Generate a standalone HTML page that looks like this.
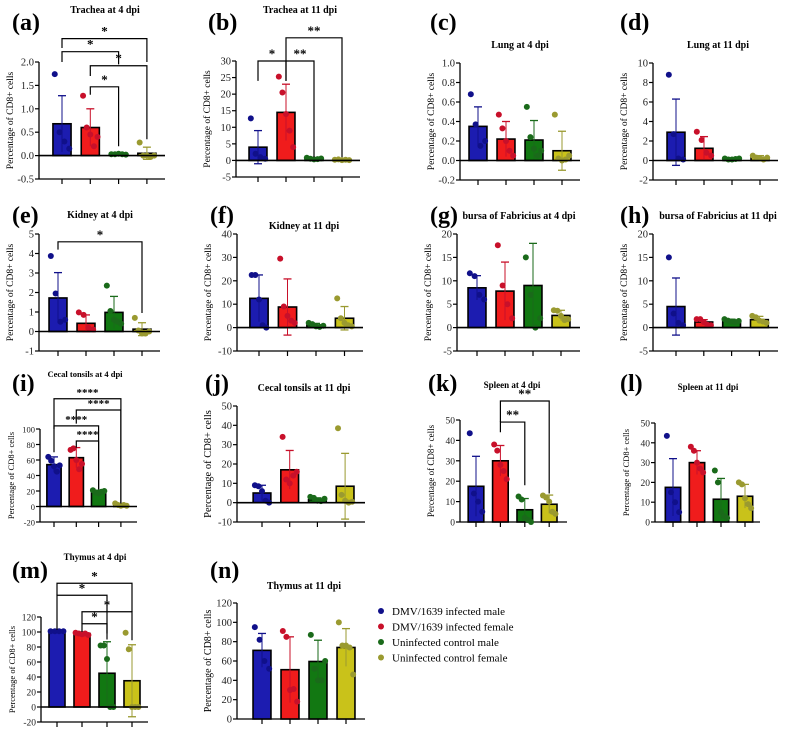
<!DOCTYPE html>
<html><head><meta charset="utf-8"><style>
html,body{margin:0;padding:0;background:#fff;}
svg{display:block;}
text{font-family:"Liberation Serif",serif;}
</style></head><body>
<svg id="fig" width="789" height="732" viewBox="0 0 789 732" xmlns="http://www.w3.org/2000/svg"></svg>
<script>
// ---- data ----
const groups = ["DMV/1639 infected male","DMV/1639 infected female","Uninfected control male","Uninfected control female"];
const aMeans=[0.68,0.6,0.03,0.05], aSD=[0.6,0.4,0.01,0.13];
const aPts=[[1.74,0.5,0.3,0.15],[1.28,0.6,0.45,0.2,0.4],[0.03,0.03,0.04,0.03,0.02],[0.28,0.0,0.0,-0.03,0.0]];
const bMeans=[4,14.5,0.5,0.2], bSD=[5,8.5,0.3,0.2];
const bPts=[[12.7,2,1,0.5],[25.3,20.5,14,9,4],[0.8,0.5,0.3,0.4,0.6],[0.2,0.3,0.1,0.2,0.1]];
const cMeans=[0.35,0.22,0.21,0.1], cSD=[0.2,0.18,0.2,0.2];
const cPts=[[0.68,0.37,0.15,0.2],[0.47,0.33,0.2,0.1,0.05],[0.55,0.24,0.12,0.05,0.1],[0.47,0.02,0.0,0.01,0.05]];
const dMeans=[2.9,1.25,0.15,0.3], dSD=[3.4,1.2,0.1,0.2];
const dPts=[[8.8,2.7,0.2,0.1],[2.95,2.1,0.8,0.5],[0.2,0.1,0.1,0.15,0.2],[0.5,0.3,0.2,0.1,0.3]];
const eMeans=[1.72,0.42,0.98,0.12], eSD=[1.3,0.43,0.82,0.33];
const ePts=[[3.87,1.95,0.5,0.6],[0.98,0.85,0.2,0.1],[2.35,1.05,0.6,0.5,0.4],[0.7,0.05,-0.1,-0.1,0.0]];
const fMeans=[12.5,8.8,1,4], fSD=[10,12,0.8,5];
const fPts=[[22.5,22.5,12,1,0],[29.5,9,5,3,2],[2,1.5,0.5,0.3,0.8],[12.5,4,2,1,0.5]];
const gMeans=[8.5,7.8,9,2.6], gSD=[2.6,6.2,9,1.1];
const gPts=[[11.6,11,7,6],[17.6,9,5,2],[15,7,0,2],[3.7,3.6,2.5,1.6,1.8]];
const hMeans=[4.5,1.2,1.5,1.7], hSD=[6.1,0.5,0.3,0.7];
const hPts=[[15,3,1,0.5],[1.8,1.8,1.2,0.6,0.5],[1.8,1.5,1.3,1.2,1.4],[2.5,2.2,1.5,1.3,1.0]];
const iMeans=[54,63,19,2], iSD=[10,13,2,1];
const iPts=[[64,59,52,45,53],[73,75,60,48,55],[21,18,17,19,20],[4,2,1,2,1]];
const jMeans=[5,17,1.5,8.5], jSD=[4,10,1,17];
const jPts=[[9,8.5,6,1,0],[34,12,10,14,16],[3,2.5,1,0.8,2],[38.5,4,1,0,0.5]];
const kMeans=[17.5,30,6,8.7], kSD=[14.7,7.5,5.5,4.5];
const kPts=[[43.5,14,10,5],[38,35,28,25,21],[12.5,11,2,1,0],[13,12,10,5,4]];
const lMeans=[17.5,30,11.5,13], lSD=[14.5,6,10.5,6];
const lPts=[[43.5,15,10,5],[38,36,30,27,25],[26,20,5,3,2],[20,19,12,9,7]];
const mMeans=[101,98,45,35], mSD=[0.5,2,42,48];
const mPts=[[101,101,101,101],[99,98,97,98,96],[82,82,64,0,0],[99,77,0,0,0]];
const nMeans=[71,51,59.5,74], nSD=[17.5,34,22,19.5];
const nPts=[[95,82,60,52],[91,85,30,31,18],[87,52,40,40,60],[100,76,76,74,46]];
// brackets: [from, to, y, leftLegEnd, rightLegEnd, label]
const aBr=[[0,3,2.5,2.3,2.0,"*"],[0,2,2.22,2.0,1.95,"*"],[1,3,1.92,1.7,0.35,"*"],[1,2,1.47,1.3,0.2,"*"]];
const bBr=[[1,3,37,30,1,"**"],[0,1,30,24,24,"*"],[1,2,30,24,1,"**"]];
const eBr=[[0,3,4.6,4.2,0.95,"*"]];
const iBr=[[0,3,139,100,4,"****"],[1,3,124.5,107,4,"****"],[0,2,104,70,22,"****"],[1,2,84.5,76,22,"****"]];
const kBr=[[1,3,59.3,49,14,"**"],[1,2,49,44,18,"**"]];
const mBr=[[0,3,165,149,127,"*"],[0,2,149,103,98,"*"],[1,3,127,111,89,"*"],[1,2,111,100,90,"*"]];

const fills=["#1c1cb0","#f01c1c","#127812","#c9c21a"];
const dots=["#10108a","#c8102a","#1a6a1a","#9a9a30"];
const NS="http://www.w3.org/2000/svg";
const svg=document.getElementById("fig");
function mk(tag,attrs,parent){const e=document.createElementNS(NS,tag);for(const k in attrs)e.setAttribute(k,attrs[k]);(parent||svg).appendChild(e);return e;}

function panel(P){
  const g=mk("g",{});
  
  
  const y=v=>P.bot-(v-P.min)/(P.max-P.min)*(P.bot-P.top);
  const x=i=>P.x0+i*P.dx;
  const bw=P.dx*0.64;
  // label
  const lb=mk("text",{x:P.lx,y:P.ly,"font-size":24,"font-weight":"bold"},g);lb.textContent="("+P.id+")";
  
  
  const tt=mk("text",{x:P.tx,y:P.ty,"font-size":P.tfs||10,"font-weight":"bold","text-anchor":"middle"},g);tt.textContent=P.title;
  
  
  // y axis title
  const yt=mk("text",{x:0,y:0,"font-size":P.afs||9.5,"text-anchor":"middle",transform:`translate(${P.ax-26},${(P.top+P.bot)/2}) rotate(-90)`},g);
  yt.textContent="Percentage of CD8+ cells";
  
  
  // y axis
  mk("line",{x1:P.ax,y1:P.top,x2:P.ax,y2:P.bot,stroke:"#000","stroke-width":1.3},g);
  for(let v=P.min;v<=P.max+1e-9;v+=P.step){
    const yy=y(v);
    mk("line",{x1:P.ax-4,y1:yy,x2:P.ax,y2:yy,stroke:"#000","stroke-width":1.2},g);
    const t=mk("text",{x:P.ax-5,y:yy+3.5,"font-size":P.fs||10.5,"text-anchor":"end",fill:"#222"},g);
    t.textContent=v.toFixed(P.dec||0);
    
    
  }
  // bottom axis
  mk("line",{x1:P.ax,y1:P.bot,x2:P.end,y2:P.bot,stroke:"#000","stroke-width":1.3},g);
  for(let i=0;i<4;i++) mk("line",{x1:x(i),y1:P.bot,x2:x(i),y2:P.bot+5,stroke:"#000","stroke-width":1.2},g);
  // bars
  for(let i=0;i<4;i++){
    const m=P.means[i],y0=y(0),ym=y(m);
    const r=mk("rect",{x:x(i)-bw/2,y:Math.min(y0,ym),width:bw,height:Math.abs(y0-ym),fill:fills[i],stroke:"#000","stroke-width":1.6},g);
    
    
    const hi=y(m+P.sd[i]),lo=y(m-P.sd[i]);
    mk("line",{x1:x(i),y1:hi,x2:x(i),y2:lo,stroke:dots[i],"stroke-width":1},g);
    mk("line",{x1:x(i)-4,y1:hi,x2:x(i)+4,y2:hi,stroke:dots[i],"stroke-width":1.3},g);
    if(m-P.sd[i]<0) mk("line",{x1:x(i)-4,y1:lo,x2:x(i)+4,y2:lo,stroke:dots[i],"stroke-width":1.3},g);
    const pts=P.pts[i],n=pts.length;
    pts.forEach((v,k)=>{
      const off=(k-(n-1)/2)*(bw*0.8/Math.max(n-1,1));
      const c=mk("circle",{cx:x(i)+off,cy:y(v),r:3,fill:dots[i]},g);
      
      
    });
  }
  // zero line
  if(P.min<0) mk("line",{x1:P.ax,y1:y(0),x2:P.end,y2:y(0),stroke:"#000","stroke-width":1.6},g);
  // brackets
  (P.br||[]).forEach(b=>{
    const [a,c,v,l,r,s]=b;
    mk("polyline",{points:`${x(a)},${y(l)} ${x(a)},${y(v)} ${x(c)},${y(v)} ${x(c)},${y(r)}`,fill:"none",stroke:"#000","stroke-width":1.2},g);
    const t=mk("text",{x:(x(a)+x(c))/2,y:y(v)-3,"font-size":P.sfs||13,"font-weight":"bold","text-anchor":"middle","font-family":"Liberation Sans, sans-serif"},g);
    t.textContent=s;
    
    
  });
}

const panels=[
 {id:"a",title:"Trachea at 4 dpi",means:aMeans,sd:aSD,pts:aPts,br:aBr,ax:39,x0:62,dx:28.3,end:165,top:62,bot:179,min:-0.5,max:2.0,step:0.5,dec:1,tx:105,ty:13,lx:12,ly:30},
 {id:"b",title:"Trachea at 11 dpi",means:bMeans,sd:bSD,pts:bPts,br:bBr,ax:236,x0:258,dx:28,end:360,top:61,bot:177,min:-5,max:30,step:5,tx:300,ty:13,lx:208,ly:30},
 {id:"c",title:"Lung at 4 dpi",means:cMeans,sd:cSD,pts:cPts,ax:460,x0:478,dx:28,end:580,top:63,bot:180,min:-0.2,max:1.0,step:0.2,dec:1,tx:520,ty:48,lx:430,ly:30},
 {id:"d",title:"Lung at 11 dpi",means:dMeans,sd:dSD,pts:dPts,ax:653,x0:676,dx:28,end:778,top:63,bot:180,min:-2,max:10,step:2,tx:718,ty:48,lx:620,ly:30},
 {id:"e",title:"Kidney at 4 dpi",means:eMeans,sd:eSD,pts:ePts,br:eBr,ax:39,x0:58,dx:28,end:160,top:234,bot:351,min:-1,max:5,step:1,tx:100,ty:218,lx:12,ly:223},
 {id:"f",title:"Kidney at 11 dpi",means:fMeans,sd:fSD,pts:fPts,ax:237,x0:259,dx:28.5,end:363,top:234,bot:351,min:-10,max:40,step:10,tx:304,ty:229,lx:210,ly:223},
 {id:"g",title:"bursa of Fabricius at 4 dpi",means:gMeans,sd:gSD,pts:gPts,ax:457,x0:477,dx:28,end:580,top:234,bot:351,min:-5,max:20,step:5,tx:519,ty:219,lx:430,ly:223},
 {id:"h",title:"bursa of Fabricius at 11 dpi",means:hMeans,sd:hSD,pts:hPts,ax:653,x0:676,dx:27.8,end:778,top:234,bot:351,min:-5,max:20,step:5,tx:718,ty:219,lx:620,ly:223},
 {id:"i",title:"Cecal tonsils at 4 dpi",means:iMeans,sd:iSD,pts:iPts,br:iBr,ax:40,x0:54,dx:22.3,end:137,top:429,bot:522,min:-20,max:100,step:20,fs:8.5,afs:8.5,tfs:8.5,sfs:11,tx:85,ty:377,lx:12,ly:391},
 {id:"j",title:"Cecal tonsils at 11 dpi",means:jMeans,sd:jSD,pts:jPts,ax:237,x0:262,dx:27.7,end:365,top:406,bot:522,min:-10,max:50,step:10,afs:10.5,tx:304,ty:391,lx:205,ly:391},
 {id:"k",title:"Spleen at 4 dpi",means:kMeans,sd:kSD,pts:kPts,br:kBr,ax:460,x0:476,dx:24.4,end:567,top:420,bot:522,min:0,max:50,step:10,fs:9.5,afs:9,tfs:9,tx:512,ty:388,lx:428,ly:391},
 {id:"l",title:"Spleen at 11 dpi",means:lMeans,sd:lSD,pts:lPts,ax:655,x0:673,dx:24,end:760,top:423,bot:522,min:0,max:50,step:10,fs:9.5,afs:8.5,tfs:9,tx:708,ty:390,lx:620,ly:391},
 {id:"m",title:"Thymus at 4 dpi",means:mMeans,sd:mSD,pts:mPts,br:mBr,ax:41,x0:57,dx:25,end:148,top:617,bot:722,min:-20,max:120,step:20,fs:9.5,afs:8.5,tfs:9,tx:95,ty:560,lx:12,ly:578},
 {id:"n",title:"Thymus at 11 dpi",means:nMeans,sd:nSD,pts:nPts,ax:237,x0:262,dx:28,end:365,top:603,bot:719,min:0,max:120,step:20,afs:10,tx:304,ty:589,lx:210,ly:578}
];
panels.forEach(panel);

// legend
const lg=mk("g",{});


groups.forEach((name,i)=>{
  const yy=611+i*15.5;
  const c=mk("circle",{cx:381,cy:yy,r:3,fill:dots[i]},lg);
  
  
  const t=mk("text",{x:392,y:yy+4,"font-size":11},lg);
  t.textContent=name;
  
  
});
</script>
</body></html>
